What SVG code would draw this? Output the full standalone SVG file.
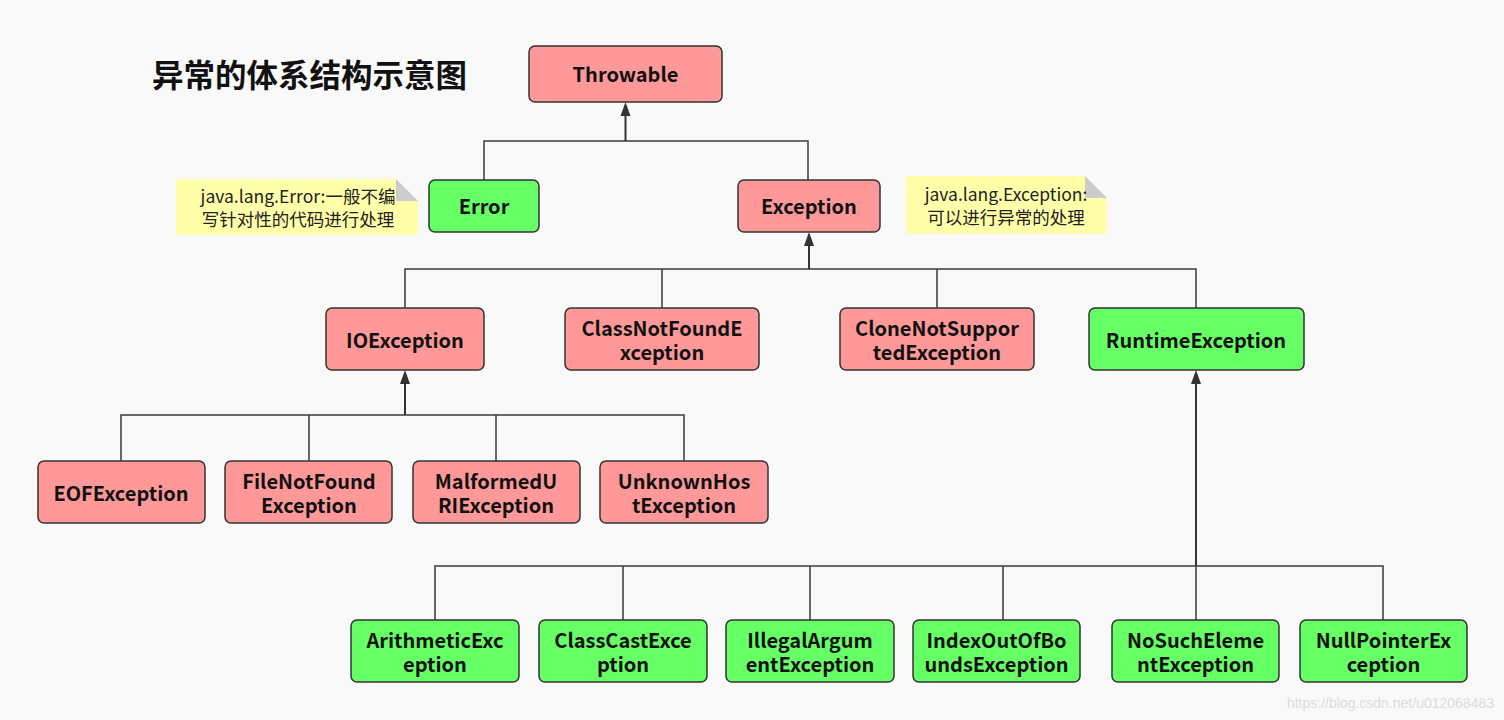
<svg xmlns="http://www.w3.org/2000/svg" width="1504" height="720" viewBox="0 0 1504 720">
<style>
.r{fill:#ff9999;stroke:#333;stroke-width:1.5}
.g{fill:#66ff66;stroke:#333;stroke-width:1.5}
.t{font-family:"Noto Sans CJK SC","Noto Sans",sans-serif;font-weight:bold;font-size:20px;fill:#111;text-anchor:middle}
.n{font-family:"Noto Sans CJK SC","Noto Sans",sans-serif;font-size:17.5px;fill:#222;text-anchor:middle}
.c{fill:none;stroke:#3a3a3a;stroke-width:1.5}
.a{fill:none;stroke:#333;stroke-width:2}
.h{fill:#333}
</style>
<rect width="1504" height="720" fill="#f9f9f9"/>
<text x="152" y="87" font-family="Noto Sans CJK SC,sans-serif" font-weight="bold" font-size="31.5" fill="#111">异常的体系结构示意图</text>

<g id="connectors">
<path class="c" d="M484,180 V141 H808 V180"/>
<path class="a" d="M625.5,141 V112"/>
<polygon class="h" points="625.5,102 620.5,116 630.5,116"/>
<path class="c" d="M405,308 V269 H1196 V308 M662,269 V308 M937,269 V308"/>
<path class="a" d="M809,269 V242"/>
<polygon class="h" points="809,232 804,246 814,246"/>
<path class="c" d="M121,461 V415 H684 V461 M309,415 V461 M496,415 V461"/>
<path class="a" d="M405,415 V380"/>
<polygon class="h" points="405,370 400,384 410,384"/>
<path class="c" d="M435,620 V566 H1383 V620 M623,566 V620 M810,566 V620 M1003,566 V620 M1196,566 V620"/>
<path class="a" d="M1196,566 V380"/>
<polygon class="h" points="1196,370 1191,384 1201,384"/>
</g>

<g id="note-error">
<path d="M176,179 H396 L418,201 V235 H176 Z" fill="#ffffaa"/>
<path d="M396,179 L418,201 H396 Z" fill="#cccccc"/>
<text class="n" x="298" y="203">java.lang.Error:一般不编</text>
<text class="n" x="298" y="226">写针对性的代码进行处理</text>
</g>
<g id="note-exception">
<path d="M906,176 H1085 L1107,198 V234 H906 Z" fill="#ffffaa"/>
<path d="M1085,176 L1107,198 H1085 Z" fill="#cccccc"/>
<text class="n" x="1006" y="201">java.lang.Exception:</text>
<text class="n" x="1006" y="224">可以进行异常的处理</text>
</g>

<g id="throwable"><rect class="r" x="529" y="46" width="193" height="56" rx="6"/><text class="t" x="625.5" y="82">Throwable</text></g>
<g id="error"><rect class="g" x="429" y="180" width="110" height="52" rx="6"/><text class="t" x="484" y="214">Error</text></g>
<g id="exception"><rect class="r" x="738" y="180" width="142" height="52" rx="6"/><text class="t" x="809" y="214">Exception</text></g>

<g id="ioexception"><rect class="r" x="326" y="308" width="158" height="62" rx="6"/><text class="t" x="405" y="348">IOException</text></g>
<g id="classnotfound"><rect class="r" x="565" y="308" width="194" height="62" rx="6"/><text class="t" x="662" y="336">ClassNotFoundE</text><text class="t" x="662" y="360">xception</text></g>
<g id="clonenotsupported"><rect class="r" x="840" y="308" width="194" height="62" rx="6"/><text class="t" x="937" y="336">CloneNotSuppor</text><text class="t" x="937" y="360">tedException</text></g>
<g id="runtime"><rect class="g" x="1089" y="308" width="215" height="62" rx="6"/><text class="t" x="1196" y="348">RuntimeException</text></g>

<g id="eof"><rect class="r" x="38" y="461" width="167" height="62" rx="6"/><text class="t" x="121" y="501">EOFException</text></g>
<g id="filenotfound"><rect class="r" x="225" y="461" width="167" height="62" rx="6"/><text class="t" x="309" y="489">FileNotFound</text><text class="t" x="309" y="513">Exception</text></g>
<g id="malformeduri"><rect class="r" x="413" y="461" width="167" height="62" rx="6"/><text class="t" x="496" y="489">MalformedU</text><text class="t" x="496" y="513">RIException</text></g>
<g id="unknownhost"><rect class="r" x="600" y="461" width="168" height="62" rx="6"/><text class="t" x="684" y="489">UnknownHos</text><text class="t" x="684" y="513">tException</text></g>

<g id="arithmetic"><rect class="g" x="351" y="620" width="168" height="62" rx="6"/><text class="t" x="435" y="648">ArithmeticExc</text><text class="t" x="435" y="672">eption</text></g>
<g id="classcast"><rect class="g" x="539" y="620" width="168" height="62" rx="6"/><text class="t" x="623" y="648">ClassCastExce</text><text class="t" x="623" y="672">ption</text></g>
<g id="illegalargument"><rect class="g" x="726" y="620" width="168" height="62" rx="6"/><text class="t" x="810" y="648">IllegalArgum</text><text class="t" x="810" y="672">entException</text></g>
<g id="indexoutofbounds"><rect class="g" x="913" y="620" width="167" height="62" rx="6"/><text class="t" x="996.5" y="648">IndexOutOfBo</text><text class="t" x="996.5" y="672">undsException</text></g>
<g id="nosuchelement"><rect class="g" x="1112" y="620" width="167" height="62" rx="6"/><text class="t" x="1195.5" y="648">NoSuchEleme</text><text class="t" x="1195.5" y="672">ntException</text></g>
<g id="nullpointer"><rect class="g" x="1300" y="620" width="167" height="62" rx="6"/><text class="t" x="1383.5" y="648">NullPointerEx</text><text class="t" x="1383.5" y="672">ception</text></g>

<text x="1494" y="708" text-anchor="end" font-family="Liberation Sans,sans-serif" font-size="14" fill="#dcdcdc">https://blog.csdn.net/u012068483</text>
</svg>
